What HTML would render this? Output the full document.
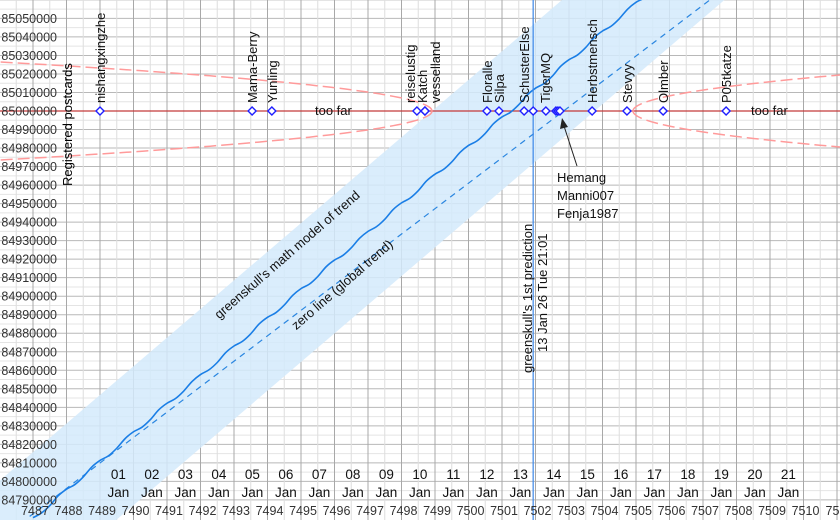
<!DOCTYPE html>
<html><head><meta charset="utf-8"><style>
html,body{margin:0;padding:0;background:#fff;width:840px;height:520px;overflow:hidden}
svg{display:block;font-family:"Liberation Sans",sans-serif;overflow:hidden}
</style></head><body>
<svg id="chart" width="840" height="520" viewBox="0 0 840 520">
<defs><clipPath id="frame"><rect x="0" y="0" width="840" height="520"/></clipPath></defs>
<g id="grid" clip-path="url(#frame)"></g>
<g id="band" clip-path="url(#frame)"></g>
<g id="lines" clip-path="url(#frame)"></g>
<g id="marks"></g>
<g id="labels" clip-path="url(#frame)"></g>
<text x="0" y="0" transform="translate(72,186) rotate(-90)" font-size="13" fill="#000">Registered postcards</text>
<text transform="translate(290,258) rotate(-41)" text-anchor="middle" font-size="13" fill="#111">greenskull's math model of trend</text>
<text transform="translate(345,288) rotate(-41)" text-anchor="middle" font-size="13" fill="#111">zero line (global trend)</text>
<text transform="translate(532,373) rotate(-90)" font-size="13" fill="#111">greenskull's 1st prediction</text>
<text transform="translate(547,352) rotate(-90)" font-size="13" fill="#111">13 Jan 26 Tue 21:01</text>
<g>
<line x1="577" y1="166" x2="564" y2="126" stroke="#222" stroke-width="1"/>
<polygon points="562,118 560,129 568,127" fill="#222"/>
<text x="557" y="182" font-size="13" fill="#111">Hemang</text>
<text x="557" y="200" font-size="13" fill="#111">Manni007</text>
<text x="557" y="218" font-size="13" fill="#111">Fenja1987</text>
</g>
<text x="315" y="115" font-size="13" fill="#111">too far</text>
<text x="751" y="115" font-size="13" fill="#111">too far</text>
</svg>
<script>
const trendStartDay = 7487;
const trendStepDay = 0.25;
const trendValues = [84780400,84782900,84786900,84792200,84795800,84798300,84802400,84807700,84811300,84813800,84817900,84823100,84826800,84829200,84833300,84838600,84842200,84844700,84848800,84854000,84857700,84860200,84864200,84869500,84873100,84875600,84879700,84885000,84888600,84891100,84895200,84900400,84904100,84906500,84910600,84915900,84919500,84922000,84926100,84931300,84935000,84937500,84941500,84946800,84950400,84952900,84957000,84962300,84965900,84968400,84972500,84977700,84981400,84983800,84987900,84993200,84996800,84999300,85003400,85008600,85012300,85014800,85018800,85024100,85027700,85030200,85034300,85039600,85043200,85045700,85049800,85055000,85058700,85061100,85065200];
const zeroDays = [7486.9, 7507.2];
const zeroValues = [84781100, 85059900];
const bandDays = [7486, 7508];
const bandUpper = [84800300, 85140500];
const bandLower = [84725300, 85065500];
const targetValue = 85000000;
const predictionDay = 7501.93;
const userNames = ["nishangxingzhe","Mama-Berry","Yunling","reiselustig","Katch","vesselland","Floralle","Silpa","SchusterElse","","TigerMQ","Hemang","Manni007","Fenja1987","Herbstmensch","Stevyy","Olmber","P05tkatze"];
const userDays = [7489.0,7493.54,7494.13,7498.46,7498.70,7498.70,7500.55,7500.91,7501.66,7501.93,7502.31,7502.61,7502.67,7502.73,7503.69,7504.73,7505.81,7507.69];
const userLabelShift = [0,0,0,-7,-3,10,0,0,0,0,-1,0,0,0,0,0,0,0];
const userLabelShow = [1,1,1,1,1,1,1,1,1,0,1,0,0,0,1,1,1,1];
const yTicks = [84790000,84800000,84810000,84820000,84830000,84840000,84850000,84860000,84870000,84880000,84890000,84900000,84910000,84920000,84930000,84940000,84950000,84960000,84970000,84980000,84990000,85000000,85010000,85020000,85030000,85040000,85050000];
const xTicks = [7487,7488,7489,7490,7491,7492,7493,7494,7495,7496,7497,7498,7499,7500,7501,7502,7503,7504,7505,7506,7507,7508,7509,7510,7511];
const dateLabels = ["01","02","03","04","05","06","07","08","09","10","11","12","13","14","15","16","17","18","19","20","21"];
const dateFirstDay = 7489.55;

const X = d => 100 + (d - 7489) * 33.5;
const Y = v => 111 - (v - 85000000) / 10000 * 18.52;
const NS = "http://www.w3.org/2000/svg";
function mk(tag, attrs, parent){const e=document.createElementNS(NS,tag);for(const k in attrs)e.setAttribute(k,attrs[k]);parent.appendChild(e);return e;}
const grid=document.getElementById('grid'), band=document.getElementById('band'), lines=document.getElementById('lines'), marks=document.getElementById('marks'), labels=document.getElementById('labels');

for(let v=84790000; v<=85060000; v+=5000){
  const l=mk('line',{x1:0,x2:840,y1:Y(v),y2:Y(v),stroke:(v%10000===0)?'#b8b8b8':'#e4e4e4','stroke-width':1},grid);
  
  
}
for(let d=7486; d<=7511; d+=0.5){
  const l=mk('line',{x1:X(d),x2:X(d),y1:0,y2:520,stroke:(d%1===0)?'#a8a8a8':'#dedede','stroke-width':1},grid);
  
  
}
yTicks.forEach(v=>{
  const t=mk('text',{x:57,y:Y(v)+4.5,'text-anchor':'end','font-size':12.5,fill:'#333'},labels);
  t.textContent=String(v);
  
  
});
xTicks.forEach(d=>{
  const t=mk('text',{x:X(d)+2,y:515,'text-anchor':'middle','font-size':12.5,fill:'#333'},labels);
  t.textContent=String(d);
  
  
});
dateLabels.forEach((s,i)=>{
  const x=X(dateFirstDay+i);
  const a=mk('text',{x:x,y:479,'text-anchor':'middle','font-size':13.5,fill:'#111'},labels);
  a.textContent=s;
  
  
  const b=mk('text',{x:x,y:497,'text-anchor':'middle','font-size':13.5,fill:'#111'},labels);
  b.textContent='Jan';
  
  
});

// band clipped to frame (Sutherland-Hodgman)
function clipPoly(poly){
  const edges=[[p=>p[0]>=0,(a,b)=>{const t=(0-a[0])/(b[0]-a[0]);return [0,a[1]+t*(b[1]-a[1])];}],
               [p=>p[0]<=840,(a,b)=>{const t=(840-a[0])/(b[0]-a[0]);return [840,a[1]+t*(b[1]-a[1])];}],
               [p=>p[1]>=0,(a,b)=>{const t=(0-a[1])/(b[1]-a[1]);return [a[0]+t*(b[0]-a[0]),0];}],
               [p=>p[1]<=520,(a,b)=>{const t=(520-a[1])/(b[1]-a[1]);return [a[0]+t*(b[0]-a[0]),520];}]];
  let out=poly;
  edges.forEach(([inside,inter])=>{
    const inp=out; out=[];
    for(let i=0;i<inp.length;i++){
      const cur=inp[i], prev=inp[(i+inp.length-1)%inp.length];
      if(inside(cur)){ if(!inside(prev)) out.push(inter(prev,cur)); out.push(cur); }
      else if(inside(prev)) out.push(inter(prev,cur));
    }
  });
  return out;
}
const bandPoly=clipPoly([[X(bandDays[0]),Y(bandUpper[0])],[X(bandDays[1]),Y(bandUpper[1])],[X(bandDays[1]),Y(bandLower[1])],[X(bandDays[0]),Y(bandLower[0])]]);
const bp=mk('polygon',{points:bandPoly.map(p=>p[0].toFixed(1)+','+p[1].toFixed(1)).join(' '),fill:'#d3eafc','fill-opacity':0.85},band);



const rl=mk('line',{x1:0,x2:840,y1:Y(targetValue),y2:Y(targetValue),stroke:'#c43a3a','stroke-width':1.2},lines);


function funnel(x0,dir,k,sign,len){
  let p='';
  for(let i=0;i<=60;i++){const dx=(i/60)**2*len;const x=x0+dir*dx;const y=Y(targetValue)+sign*k*Math.sqrt(dx);p+=(i?'L':'M')+x.toFixed(1)+','+y.toFixed(1);}
  return p;
}
[[432,-1,2.36,-1,432],[432,-1,2.36,1,432],[633,1,2.5,-1,207],[633,1,2.5,1,207]].forEach(a=>{
  const f=mk('path',{d:funnel(...a),fill:'none',stroke:'#ff9a9a','stroke-width':1.5,'stroke-dasharray':'12,5'},lines);
  
  
});

const zl=mk('line',{x1:X(zeroDays[0]),y1:Y(zeroValues[0]),x2:X(zeroDays[1]),y2:Y(zeroValues[1]),stroke:'#2a86e0','stroke-width':1.2,'stroke-dasharray':'6,5'},lines);



const pts=trendValues.map((v,i)=>[X(trendStartDay+i*trendStepDay),Y(v)]);
let d='M'+pts[0][0]+','+pts[0][1];
for(let i=0;i<pts.length-1;i++){
  const p0=pts[Math.max(0,i-1)],p1=pts[i],p2=pts[i+1],p3=pts[Math.min(pts.length-1,i+2)];
  d+=`C${p1[0]+(p2[0]-p0[0])/6},${p1[1]+(p2[1]-p0[1])/6} ${p2[0]-(p3[0]-p1[0])/6},${p2[1]-(p3[1]-p1[1])/6} ${p2[0]},${p2[1]}`;
}
const tc=mk('path',{d:d,fill:'none',stroke:'#1a7ee6','stroke-width':1.6},lines);



const pl=mk('line',{x1:X(predictionDay),x2:X(predictionDay),y1:0,y2:520,stroke:'#3b86e8','stroke-width':1.2},lines);



userDays.forEach((dd,i)=>{
  const x=X(dd), y=Y(targetValue);
  const m=mk('polygon',{points:`${x},${y-4} ${x+4},${y} ${x},${y+4} ${x-4},${y}`,fill:'#fff',stroke:'#1f1fff','stroke-width':1.4},marks);
  
  
  if(userLabelShow[i]){
    const t=mk('text',{transform:`translate(${x+userLabelShift[i]+5},${y-8}) rotate(-90)`,'font-size':13,fill:'#111'},labels);
    t.textContent=userNames[i];
    
    
  }
});
</script>
</body></html>
